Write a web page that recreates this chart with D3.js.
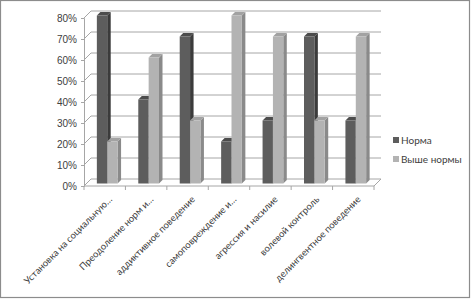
<!DOCTYPE html>
<html>
<head>
<meta charset="utf-8">
<script src="https://cdn.jsdelivr.net/npm/d3@7"></script>
<style>
  body { margin: 0; background: #fff; }
  svg { display: block; font-family: Lato, "Liberation Sans", sans-serif; }
</style>
</head>
<body>
<div id="chart"></div>
<script>
// ========== DATA ==========
const categories = [
  "Установка на социальную…",
  "Преодоление норм и…",
  "аддиктивное поведение",
  "самоповреждение и…",
  "агрессия и насилие",
  "волевой контроль",
  "делингвентное поведение"
];
const seriesNames = ["Норма", "Выше нормы"];
const normaValues = [80, 40, 70, 20, 30, 70, 30];
const aboveValues = [20, 60, 30, 80, 70, 30, 70];
const yTicks = [0, 10, 20, 30, 40, 50, 60, 70, 80];

const W = 471, H = 299;
const depth = 7;          // wall depth offset
const barOff = 2.5;       // bars sit a little behind the front plane
const barDepth = 3.5;
const colors = {
  "Норма": { front: "#5d5d5d", top: "#4c4c4c", side: "#3b3b3b" },
  "Выше нормы": { front: "#b3b3b3", top: "#a2a2a2", side: "#8a8a8a" }
};
const gridColor = "#a6a6a6";
const textColor = "#404040";

const svg = d3.select("#chart").append("svg")
  .attr("width", W).attr("height", H);

// outer frame
svg.append("rect")
  .attr("x", 0.5).attr("y", 0.5).attr("width", 469).attr("height", 297)
  .attr("fill", "#fff").attr("stroke", "#8c8c8c").attr("stroke-width", 1.2);

const x = d3.scaleBand().domain(categories).range([84, 374]);
const sub = d3.scaleBand().domain(seriesNames).range([0, x.bandwidth()])
  .paddingInner(0).paddingOuter(1);
const y = d3.scaleLinear().domain([0, 80]).range([186, 18]);

// back wall gridlines + side wall diagonals
const grid = svg.append("g");
yTicks.forEach(t => {
  grid.append("line")
    .attr("x1", 84 + depth).attr("x2", 374 + depth)
    .attr("y1", y(t) - depth).attr("y2", y(t) - depth)
    .attr("stroke", gridColor).attr("stroke-width", 1);
  grid.append("line")
    .attr("x1", 84).attr("x2", 84 + depth)
    .attr("y1", y(t)).attr("y2", y(t) - depth)
    .attr("stroke", gridColor).attr("stroke-width", 1);
});

// floor
svg.append("path")
  .attr("d", `M84,${y(0)} L374,${y(0)} L${374 + depth},${y(0) - depth}`)
  .attr("fill", "none").attr("stroke", gridColor).attr("stroke-width", 1);
const bounds = categories.map(c => x(c)).concat([374]);
svg.append("g").selectAll("line").data(bounds).enter().append("line")
  .attr("x1", d => d).attr("x2", d => d)
  .attr("y1", y(0)).attr("y2", y(0) + 4)
  .attr("stroke", gridColor);

// y axis
svg.append("g")
  .attr("transform", "translate(84,0)")
  .call(d3.axisLeft(y).tickValues(yTicks).tickSize(3).tickPadding(4).tickFormat(d => d + "%"))
  .call(g => g.select(".domain").attr("stroke", gridColor))
  .call(g => g.selectAll(".tick line").attr("stroke", gridColor))
  .call(g => g.selectAll("text").attr("fill", textColor).attr("font-size", "10px"));

// bars
const rows = [];
categories.forEach((c, i) => {
  rows.push({ cat: c, s: seriesNames[0], v: normaValues[i] });
  rows.push({ cat: c, s: seriesNames[1], v: aboveValues[i] });
});

const bars = svg.append("g").selectAll("g").data(rows).enter().append("g");
bars.each(function(d) {
  const g = d3.select(this);
  const X = x(d.cat) + sub(d.s) + barOff;
  const Y = y(d.v) - barOff;
  const Y0 = y(0) - barOff;
  const w = sub.bandwidth();
  const b = barDepth;
  g.append("path")
    .attr("d", `M${X + w},${Y} L${X + w + b},${Y - b} L${X + w + b},${Y0 - b} L${X + w},${Y0} Z`)
    .attr("fill", colors[d.s].side);
  g.append("path")
    .attr("d", `M${X},${Y} L${X + b},${Y - b} L${X + w + b},${Y - b} L${X + w},${Y} Z`)
    .attr("fill", colors[d.s].top);
  g.append("rect")
    .attr("x", X).attr("y", Y).attr("width", w).attr("height", Y0 - Y)
    .attr("fill", colors[d.s].front);
});

// category labels
svg.append("g").selectAll("text").data(categories).enter().append("text")
  .attr("transform", d => `translate(${x(d) + x.bandwidth() / 2 + 8},${y(0) + 14}) rotate(-45)`)
  .attr("text-anchor", "end")
  .attr("fill", textColor)
  .attr("font-size", "9.5px")
  .text(d => d);

// legend
const legend = svg.append("g").attr("transform", "translate(393,134)");
seriesNames.forEach((s, i) => {
  const g = legend.append("g").attr("transform", `translate(0,${i * 19})`);
  g.append("rect").attr("width", 6).attr("height", 6).attr("y", 3).attr("fill", colors[s].front);
  g.append("text").attr("x", 8).attr("y", 6).attr("dy", "0.35em")
    .attr("fill", textColor).attr("font-size", "10px").text(s);
});
</script>
</body>
</html>
